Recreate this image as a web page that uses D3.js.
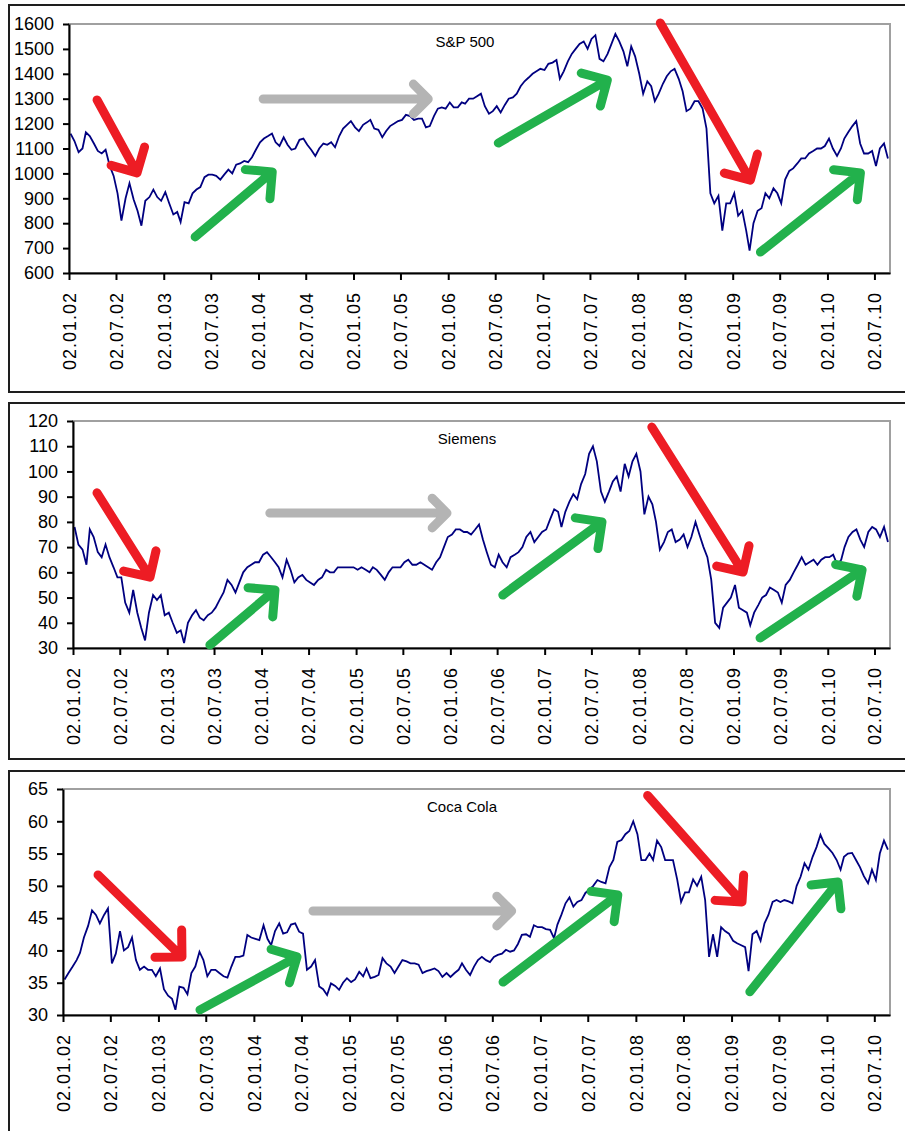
<!DOCTYPE html>
<html>
<head>
<meta charset="utf-8">
<script src="https://cdn.jsdelivr.net/npm/d3@7"></script>
<style>
  body { margin: 0; background: #fff; }
  svg text { font-family: "Liberation Sans", Arial, sans-serif; }
</style>
</head>
<body>
<div id="chart"></div>
<script>
// months sampled twice (around the 8th and the 23rd)
const months = [
  "2002-01","2002-02","2002-03","2002-04","2002-05","2002-06","2002-07","2002-08","2002-09","2002-10","2002-11","2002-12",
  "2003-01","2003-02","2003-03","2003-04","2003-05","2003-06","2003-07","2003-08","2003-09","2003-10","2003-11","2003-12",
  "2004-01","2004-02","2004-03","2004-04","2004-05","2004-06","2004-07","2004-08","2004-09","2004-10","2004-11","2004-12",
  "2005-01","2005-02","2005-03","2005-04","2005-05","2005-06","2005-07","2005-08","2005-09","2005-10","2005-11","2005-12",
  "2006-01","2006-02","2006-03","2006-04","2006-05","2006-06","2006-07","2006-08","2006-09","2006-10","2006-11","2006-12",
  "2007-01","2007-02","2007-03","2007-04","2007-05","2007-06","2007-07","2007-08","2007-09","2007-10","2007-11","2007-12",
  "2008-01","2008-02","2008-03","2008-04","2008-05","2008-06","2008-07","2008-08","2008-09","2008-10","2008-11","2008-12",
  "2009-01","2009-02","2009-03","2009-04","2009-05","2009-06","2009-07","2009-08","2009-09","2009-10","2009-11","2009-12",
  "2010-01","2010-02","2010-03","2010-04","2010-05","2010-06","2010-07","2010-08"
];
const sampleDays = [8, 23];

const spx = [
  1160,1130, 1085,1100, 1165,1150, 1120,1090, 1080,1095, 1030,990, 920,810, 900,960, 895,850, 790,890, 905,935, 905,890,
  925,880, 835,845, 805,885, 880,920, 935,945, 985,995, 995,990, 975,995, 1015,1000, 1035,1040, 1050,1045, 1065,1095,
  1125,1140, 1150,1160, 1125,1110, 1145,1115, 1095,1100, 1135,1140, 1115,1095, 1070,1100, 1120,1115, 1125,1105, 1150,1180, 1195,1210,
  1185,1170, 1195,1205, 1215,1180, 1175,1145, 1170,1190, 1200,1210, 1215,1235, 1230,1215, 1220,1220, 1185,1190, 1230,1260, 1265,1260,
  1285,1265, 1265,1285, 1280,1300, 1300,1310, 1320,1270, 1240,1250, 1270,1245, 1275,1300, 1305,1320, 1350,1370, 1385,1400, 1410,1420,
  1415,1440, 1445,1455, 1380,1410, 1450,1480, 1500,1520, 1530,1500, 1540,1555, 1460,1450, 1480,1520, 1560,1530, 1490,1430, 1510,1470,
  1400,1320, 1370,1350, 1290,1320, 1360,1390, 1410,1420, 1380,1330, 1250,1260, 1290,1290, 1260,1180, 920,880, 910,770, 880,880,
  920,830, 850,770, 690,800, 850,860, 920,900, 940,920, 880,975, 1010,1020, 1040,1060, 1060,1080, 1090,1100, 1100,1110,
  1140,1100, 1070,1100, 1140,1165, 1190,1210, 1120,1080, 1080,1090, 1030,1100, 1120,1060
];

const siemens = [
  78,71, 69,63, 77,74, 68,66, 71,66, 62,58, 58,48, 44,53, 44,38, 33,44, 51,49, 51,43,
  44,40, 36,37, 32,40, 43,45, 42,41, 43,44, 46,49, 52,57, 55,52, 56,60, 62,63, 64,64,
  67,68, 66,64, 62,58, 65,61, 56,58, 59,57, 56,55, 57,58, 61,60, 60,62, 62,62, 62,62,
  61,62, 61,60, 62,61, 59,57, 60,62, 62,62, 64,65, 63,63, 64,63, 62,61, 64,66, 70,74,
  75,77, 77,76, 76,75, 77,79, 73,68, 63,62, 67,64, 62,66, 67,68, 70,74, 76,72, 74,76,
  77,81, 85,84, 78,84, 88,91, 89,95, 99,107, 110,104, 92,88, 92,96, 98,92, 103,98, 104,107,
  100,83, 90,87, 80,69, 72,76, 77,72, 73,75, 70,74, 80,75, 70,66, 57,40, 38,46, 48,50,
  55,46, 45,44, 39,44, 47,50, 51,54, 53,52, 48,55, 57,60, 63,66, 63,64, 65,63, 65,66,
  66,67, 63,65, 70,74, 76,77, 73,70, 76,78, 77,74, 78,72
];

const cocaCola = [
  35.5,36.5, 37.5,38.5, 39.6,42, 43.8,46.2, 45.5,44.2, 45.5,46.5, 38,39.5, 43,40, 40.5,42, 38.5,37, 37.5,37, 37,36,
  37.2,34, 33,32.5, 30.8,34.4, 34.2,33.2, 36.5,37.5, 39.8,38.5, 36,37, 37,36.5, 36,35.8, 37.5,39, 39,39.2, 42.4,42,
  41.8,41.6, 43.9,41.8, 40.8,43, 44.2,42.6, 42.8,44, 44.2,42.9, 42.6,37, 37.5,38.5, 34.4,34, 33.1,34.9, 34.5,33.9, 35,35.7,
  35.1,35.5, 36.7,36, 37.2,35.7, 35.9,36.2, 38.8,38, 37.5,36.5, 37.5,38.5, 38.3,38, 38,37.8, 36.5,36.8, 37,37.2, 36.8,35.9,
  36.5,35.9, 36.5,37, 38,37, 36.2,37.5, 38.5,39, 38.5,38.2, 39,39.3, 39.5,40.1, 39.8,40, 41,42.4, 42.5,42.1, 43.9,43.6,
  43.6,43.3, 43.2,41.9, 44,45.5, 47.3,48.2, 46.8,47.5, 47.8,48.9, 49.4,50, 50.9,50.6, 50.4,52.9, 54,56.8, 57.1,58, 58.5,60,
  58,54, 54,55, 54,57, 56,54, 54,54, 51,47.5, 49,49, 51,50, 51.4,47.8, 39,42.5, 39,43.6, 43,42.6,
  41.5,41.1, 40.8,40.5, 36.8,42.5, 43,41.5, 44.2,45.5, 47.5,47.8, 47.5,47.8, 47.6,47.3, 50,51.4, 53.5,52.5, 54.5,56, 57.9,56.5,
  55.8,55.1, 54,52.5, 54.5,55, 55.1,54, 52.9,51.5, 50.4,52.5, 50.9,55, 57,55.6
];

const xTicks = [
  "2002-01-02","2002-07-02","2003-01-02","2003-07-02","2004-01-02","2004-07-02",
  "2005-01-02","2005-07-02","2006-01-02","2006-07-02","2007-01-02","2007-07-02",
  "2008-01-02","2008-07-02","2009-01-02","2009-07-02","2010-01-02","2010-07-02"
];
const dateRange = ["2002-01-02", "2010-08-31"];

// arrows: [kind, fromDate, fromValue, toDate, toValue]
const spxArrows = [
  ["down", "2002-04-20", 1295, "2002-09-21", 1002],
  ["up",   "2003-05-03", 745,  "2004-02-24", 1006],
  ["flat", "2004-01-20", 1299, "2005-10-17", 1299],
  ["up",   "2006-07-14", 1122, "2007-09-07", 1375],
  ["down", "2008-03-29", 1604, "2009-03-11", 973],
  ["up",   "2009-04-19", 684,  "2010-05-09", 1002]
];
const siemensArrows = [
  ["down", "2002-04-05", 91.5, "2002-10-27", 58.1],
  ["up",   "2003-06-16", 31.2, "2004-02-23", 53],
  ["flat", "2004-02-03", 83.5, "2005-12-20", 83.5],
  ["up",   "2006-07-24", 51,   "2007-08-12", 80],
  ["down", "2008-02-21", 117.6,"2009-02-08", 60.1],
  ["up",   "2009-04-15", 34,   "2010-05-15", 61]
];
const cocaColaArrows = [
  ["down", "2002-05-16", 51.7, "2003-04-02", 39],
  ["up",   "2003-06-10", 30.8, "2004-06-15", 39],
  ["flat", "2004-08-15", 46.1, "2006-09-14", 46.1],
  ["up",   "2006-08-12", 35.1, "2007-10-25", 48.6],
  ["down", "2008-02-16", 64,   "2009-02-11", 47.5],
  ["up",   "2009-03-13", 33.6, "2010-02-13", 50.6]
];

const arrowColor = {down: "#ed1c24", up: "#22b14c", flat: "#b4b4b4"};
const W = 905, H = 1131;

const panels = [
  {title: "S&P 500",   values: spx,      yDomain: [600, 1600], arrows: spxArrows,
   frameTop: 5,   frameBottom: 392, left: 69, top: 24,  bottom: 273},
  {title: "Siemens",   values: siemens,  yDomain: [30, 120],   arrows: siemensArrows,
   frameTop: 403, frameBottom: 759, left: 73, top: 421, bottom: 648},
  {title: "Coca Cola", values: cocaCola, yDomain: [30, 65],    arrows: cocaColaArrows,
   frameTop: 771, frameBottom: 1150, left: 63, top: 789, bottom: 1015}
];
const plotRight = 890;

const parseDay = d3.timeParse("%Y-%m-%d");
const fmt = d3.timeFormat("%d.%m.%y");

const sampleDates = [];
months.forEach(m => {
  const [yy, mm] = m.split("-").map(Number);
  sampleDates.push(new Date(yy, mm - 1, sampleDays[0]), new Date(yy, mm - 1, sampleDays[1]));
});

const svg = d3.select("#chart").append("svg")
  .attr("width", W)
  .attr("height", H);

function drawArrow(g, a, x, y) {
  const x0 = x(parseDay(a[1])), y0 = y(a[2]);
  const x1 = x(parseDay(a[3])), y1 = y(a[4]);
  const back = Math.atan2(y1 - y0, x1 - x0) + Math.PI;
  const len = a[0] === "flat" ? 21 : 27;
  const h1 = [x1 + len * Math.cos(back - Math.PI / 4), y1 + len * Math.sin(back - Math.PI / 4)];
  const h2 = [x1 + len * Math.cos(back + Math.PI / 4), y1 + len * Math.sin(back + Math.PI / 4)];
  g.append("path")
    .attr("d", `M${x0},${y0}L${x1},${y1}M${h1[0]},${h1[1]}L${x1},${y1}L${h2[0]},${h2[1]}`)
    .attr("fill", "none")
    .attr("stroke", arrowColor[a[0]])
    .attr("stroke-width", 9)
    .attr("stroke-linecap", "round")
    .attr("stroke-linejoin", "round");
}

panels.forEach(p => {
  const g = svg.append("g");

  g.append("rect")
    .attr("x", 9).attr("y", p.frameTop)
    .attr("width", W + 10).attr("height", p.frameBottom - p.frameTop)
    .attr("fill", "none").attr("stroke", "#1e1e1e").attr("stroke-width", 2);

  const x = d3.scaleTime()
    .domain(dateRange.map(parseDay))
    .range([p.left, plotRight]);
  const y = d3.scaleLinear()
    .domain(p.yDomain)
    .range([p.bottom, p.top]);

  // plot area border
  g.append("rect")
    .attr("x", p.left).attr("y", p.top)
    .attr("width", plotRight - p.left).attr("height", p.bottom - p.top)
    .attr("fill", "none").attr("stroke", "#a0a0a0").attr("stroke-width", 2);

  const line = d3.line()
    .x((d, i) => x(sampleDates[i]))
    .y(d => y(d));

  g.append("path")
    .datum(p.values)
    .attr("d", line)
    .attr("fill", "none")
    .attr("stroke", "#000080")
    .attr("stroke-width", 1.8)
    .attr("stroke-linejoin", "miter");

  g.append("text")
    .attr("x", (p.left + plotRight) / 2 + (465 - (69 + 890) / 2))
    .attr("y", p.top + 23)
    .attr("text-anchor", "middle")
    .attr("font-size", 15)
    .attr("fill", "#000")
    .text(p.title);

  const yAxis = g.append("g")
    .attr("transform", `translate(${p.left},0)`)
    .call(d3.axisLeft(y).ticks(10).tickFormat(d3.format("d"))
      .tickSize(6).tickPadding(9).tickSizeOuter(0));
  yAxis.selectAll("text")
    .attr("font-size", 18)
    .attr("fill", "#000")
    .style("font-family", '"Liberation Sans", Arial, sans-serif');

  const xAxis = g.append("g")
    .attr("transform", `translate(0,${p.bottom})`)
    .call(d3.axisBottom(x)
      .tickValues(xTicks.map(parseDay))
      .tickFormat(fmt)
      .tickSize(7)
      .tickSizeOuter(0));
  xAxis.selectAll("text")
    .attr("transform", "rotate(-90)")
    .attr("text-anchor", "end")
    .attr("x", -19)
    .attr("y", 0)
    .attr("dy", "0.35em")
    .attr("font-size", 18)
    .attr("letter-spacing", 1)
    .attr("fill", "#000")
    .style("font-family", '"Liberation Sans", Arial, sans-serif');

  [yAxis, xAxis].forEach(ax => {
    ax.select(".domain").attr("stroke", "#000").attr("stroke-width", 2);
    ax.selectAll(".tick line").attr("stroke", "#000").attr("stroke-width", 2);
  });

  p.arrows.forEach(a => drawArrow(g, a, x, y));
});
</script>
</body>
</html>
